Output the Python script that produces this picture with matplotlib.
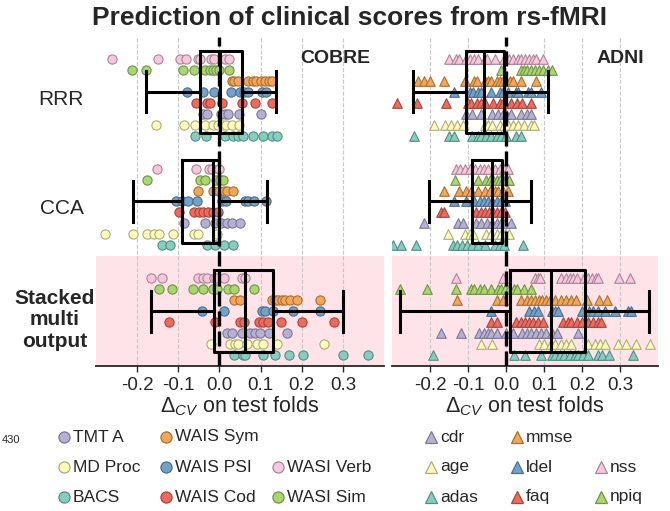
import numpy as np
import matplotlib
matplotlib.use('Agg')
import matplotlib.pyplot as plt

plt.rcParams['font.family'] = ['Liberation Sans', 'DejaVu Sans']
plt.rcParams['mathtext.fontset'] = 'custom'
plt.rcParams['mathtext.rm'] = 'Liberation Sans'
plt.rcParams['mathtext.it'] = 'Liberation Sans:italic'
plt.rcParams['axes.unicode_minus'] = False

TXT = '#262626'

methods = ['RRR', 'CCA', 'Stacked\nmulti\noutput']

# scores, listed top -> bottom inside each method row
cobre_scores = ['WASI Verb', 'WASI Sim', 'WAIS Sym', 'WAIS PSI',
                'WAIS Cod', 'TMT A', 'MD Proc', 'BACS']
adni_scores = ['nss', 'npiq', 'mmse', 'ldel', 'faq', 'cdr', 'age', 'adas']
# Set3-like colours, same order as the scores
score_colors = ['#f9c5df', '#a8d86a', '#f6a550', '#6fa3cb',
                '#f2685a', '#b5b1d6', '#fdfdb8', '#82cfc0']

# delta_cv per test fold
cobre_rrr = {
    'WASI Verb': [-0.26, -0.15, -0.096, -0.082, -0.053, -0.047, -0.021, -0.012, 0.014, 0.024],
    'WASI Sim': [-0.212, -0.178, -0.089, -0.063, -0.035, -0.024, -0.016, -0.008, -0.002, 0.024],
    'WAIS Sym': [0.030, 0.036, 0.044, 0.070, 0.081, 0.089, 0.100, 0.111, 0.121, 0.127],
    'WAIS PSI': [-0.078, -0.041, -0.013, 0.028, 0.050, 0.060, 0.070, 0.104, 0.113],
    'WAIS Cod': [-0.057, -0.031, -0.023, 0.007, 0.054, 0.087, 0.127],
    'TMT A': [-0.040, -0.029, 0.004, 0.014, 0.022, 0.048, 0.100],
    'MD Proc': [-0.155, -0.086, -0.059, -0.035, -0.015, -0.004, 0.007, 0.015, 0.030, 0.048],
    'BACS': [-0.059, -0.032, 0.014, 0.032, 0.046, 0.058, 0.081, 0.107, 0.127, 0.139],
}
cobre_cca = {
    'WASI Verb': [-0.151, -0.057, -0.025, -0.017, -0.002],
    'WASI Sim': [-0.177, -0.047, -0.035, -0.008, 0.002, 0.008],
    'WAIS Sym': [-0.053, -0.015, -0.002, 0.010, 0.019, 0.032],
    'WAIS PSI': [-0.106, -0.091, -0.077, -0.055, 0.006, 0.016, 0.061, 0.070, 0.083, 0.113],
    'WAIS Cod': [-0.098, -0.062, -0.049, -0.039, -0.027, -0.016, -0.004],
    'TMT A': [-0.085, -0.035, -0.011, 0.003, 0.018, 0.030, 0.049],
    'MD Proc': [-0.278, -0.211, -0.175, -0.160, -0.147, -0.112, -0.062, -0.053, -0.005],
    'BACS': [-0.140, -0.121, -0.029, -0.011, 0.012, 0.034],
}
cobre_stacked = {
    'WASI Verb': [-0.167, -0.140, -0.051, -0.040, -0.029, -0.013, -0.008, 0.010, 0.054, 0.062],
    'WASI Sim': [-0.146, -0.116, -0.065, -0.040, -0.016, -0.006, 0.022, 0.036, 0.083],
    'WAIS Sym': [0.036, 0.050, 0.127, 0.135, 0.143, 0.152, 0.160, 0.172, 0.188, 0.245],
    'WAIS PSI': [-0.043, 0.010, 0.103, 0.111, 0.130, 0.180, 0.245],
    'WAIS Cod': [-0.122, -0.011, 0.050, 0.060, 0.097, 0.107, 0.119, 0.149, 0.200, 0.279],
    'TMT A': [0.018, 0.030, 0.054, 0.074, 0.087, 0.099, 0.121, 0.165],
    'MD Proc': [-0.021, 0.026, 0.038, 0.045, 0.068, 0.091, 0.105, 0.141, 0.255],
    'BACS': [0.036, 0.057, 0.062, 0.105, 0.134, 0.170, 0.204, 0.300, 0.360],
}

adni_rrr = {
    'nss': [-0.149, -0.131, -0.124, -0.105, -0.096, -0.084, -0.074, -0.056, -0.049, -0.030,
            -0.005, 0.007, 0.018, 0.032, 0.040, 0.049, 0.060, 0.071, 0.080, 0.098],
    'npiq': [-0.014, 0.040, 0.047, 0.056, 0.067, 0.077, 0.086, 0.098, 0.111, 0.120],
    'mmse': [-0.232, -0.216, -0.199, -0.163, -0.109, -0.083, -0.076, -0.056, -0.047, -0.039,
             -0.025, -0.017, -0.008, 0.001, 0.010, 0.018, 0.040, 0.080],
    'ldel': [-0.137, -0.096, -0.087, -0.074, -0.065, -0.039, -0.017, -0.008, 0.005, 0.025,
             0.032, 0.058, 0.065, 0.091],
    'faq': [-0.286, -0.234, -0.157, -0.100, -0.091, -0.076, -0.065, -0.056, -0.034, -0.017,
            -0.008, 0.012, 0.030, 0.042, 0.065],
    'cdr': [-0.105, -0.090, -0.065, -0.037, -0.021, -0.008, 0.001, 0.014, 0.040, 0.054, 0.065],
    'age': [-0.190, -0.160, -0.144, -0.128, -0.113, -0.056, -0.047, -0.037, -0.017, -0.005,
            0.005, 0.018, 0.032, 0.047, 0.067, 0.074],
    'adas': [-0.243, -0.149, -0.137, -0.089, -0.074, -0.065, -0.052, -0.039, -0.023, -0.012,
             0.001, 0.025, 0.039],
}
adni_cca = {
    'nss': [-0.131, -0.120, -0.109, -0.096, -0.081, -0.069, -0.058, -0.047, -0.030, -0.017, -0.004, 0.005],
    'npiq': [-0.135, -0.074, -0.052, -0.043, -0.034, -0.025, -0.017, -0.008, 0.001, 0.007],
    'mmse': [-0.163, -0.125, -0.105, -0.091, -0.074, -0.056, -0.043, -0.030, -0.021, -0.008, 0.004],
    'ldel': [-0.137, -0.105, -0.084, -0.069, -0.058, -0.047, -0.037, -0.025, -0.012, -0.002],
    'faq': [-0.172, -0.163, -0.078, -0.065, -0.056, -0.046, -0.034, -0.023, -0.012, -0.002],
    'cdr': [-0.217, -0.127, -0.113, -0.078, -0.065, -0.049, -0.037, -0.025, -0.012, -0.002, 0.012],
    'age': [-0.153, -0.109, -0.096, -0.087, -0.052, -0.040, -0.025, -0.012, -0.002, 0.007],
    'adas': [-0.298, -0.276, -0.236, -0.140, -0.128, -0.116, -0.102, -0.090, -0.074, -0.056,
             -0.030, -0.017, -0.004, 0.045],
}
adni_stacked = {
    'nss': [-0.131, -0.008, 0.076, 0.083, 0.089, 0.146, 0.159, 0.168, 0.177, 0.188, 0.206,
            0.216, 0.225, 0.236, 0.243, 0.298, 0.326],
    'npiq': [-0.280, -0.207, -0.131, -0.093, -0.083, -0.069, -0.058, -0.040, -0.021, -0.012,
             -0.002, 0.007, 0.021, 0.030, 0.047, 0.067],
    'mmse': [-0.128, -0.025, -0.008, 0.039, 0.054, 0.067, 0.077, 0.086, 0.095, 0.104, 0.115,
             0.128, 0.146, 0.159, 0.172, 0.185, 0.214, 0.244, 0.267],
    'ldel': [-0.040, 0.060, 0.074, 0.083, 0.120, 0.130, 0.137, 0.199, 0.218, 0.229, 0.243,
             0.260, 0.288, 0.322, 0.330],
    'faq': [-0.040, -0.025, 0.027, 0.039, 0.049, 0.060, 0.071, 0.083, 0.098, 0.150, 0.162,
            0.172, 0.188, 0.200, 0.216, 0.229, 0.243, 0.251],
    'cdr': [-0.170, -0.118, -0.072, -0.058, -0.047, -0.039, -0.023, 0.001, 0.018, 0.042,
            0.054, 0.067, 0.080, 0.091, 0.104, 0.120, 0.133, 0.190],
    'age': [-0.065, -0.037, 0.086, 0.100, 0.118, 0.130, 0.146, 0.159, 0.172, 0.216, 0.234,
            0.247, 0.260, 0.295, 0.317, 0.341, 0.379],
    'adas': [-0.192, 0.021, 0.051, 0.093, 0.120, 0.128, 0.141, 0.153, 0.168, 0.181, 0.190,
             0.203, 0.216, 0.243, 0.253, 0.271, 0.335],
}

# box summaries over all scores (RRR, CCA, Stacked)
cobre_q1 = [-0.047, -0.092, -0.013]
cobre_med = [0.002, -0.016, 0.062]
cobre_q3 = [0.054, 0.0, 0.130]
cobre_wlo = [-0.178, -0.211, -0.166]
cobre_whi = [0.138, 0.115, 0.301]

adni_q1 = [-0.106, -0.089, 0.010]
adni_med = [-0.058, -0.037, 0.118]
adni_q3 = [-0.004, -0.0095, 0.207]
adni_wlo = [-0.245, -0.203, -0.279]
adni_whi = [0.111, 0.067, 0.377]

xticks = [-0.2, -0.1, 0.0, 0.1, 0.2, 0.3]

cobre_legend = ['TMT A', 'MD Proc', 'BACS', 'WAIS Sym', 'WAIS PSI', 'WAIS Cod',
                None, 'WASI Verb', 'WASI Sim']
adni_legend = ['cdr', 'age', 'adas', 'mmse', 'ldel', 'faq', None, 'nss', 'npiq']


def darker(c, f=0.68):
    r, g, b = matplotlib.colors.to_rgb(c)
    return (r * f, g * f, b * f)


def draw_panel(ax, runs, scores, marker, q1, med, q3, wlo, whi, size):
    ax.axhspan(1.45, 2.45, color='#fee4e8', lw=0, zorder=0)
    offsets = np.linspace(-0.35, 0.35, len(scores))
    for m, run in enumerate(runs):
        for k, s in enumerate(scores):
            vals = np.asarray(run[s])
            ax.scatter(vals, np.full(len(vals), m + offsets[k]), s=size, marker=marker,
                       color=score_colors[k], edgecolor=darker(score_colors[k]),
                       linewidth=0.8, zorder=2)
    stats = [dict(q1=q1[i], med=med[i], q3=q3[i], whislo=wlo[i], whishi=whi[i])
             for i in range(3)]
    lp = dict(color='black', linewidth=2.2)
    ax.bxp(stats, positions=np.arange(3) - 0.05, widths=0.75, capwidths=0.375,
           orientation='horizontal', showfliers=False, boxprops=lp, whiskerprops=lp,
           capprops=lp, medianprops=lp, zorder=3)
    ax.axvline(0, color='black', lw=2.4, ls=(0, (4.5, 1.5)), zorder=4)
    ax.set_ylim(2.45, -0.55)
    ax.set_xlim(-0.3, 0.4)
    ax.set_xticks(xticks)
    ax.set_xticklabels(['%.1f' % t for t in xticks], fontsize=13.5, color=TXT)
    ax.grid(axis='x', ls='--', color='#c8c8c8', lw=0.8, zorder=0.5)
    ax.grid(axis='y', visible=False)
    ax.set_axisbelow(True)
    for sp in ['left', 'right', 'top']:
        ax.spines[sp].set_visible(False)
    ax.spines['bottom'].set_linewidth(1.3)
    ax.spines['bottom'].set_color(TXT)
    ax.tick_params(axis='x', length=4, width=1.0, color=TXT, pad=4)
    ax.tick_params(axis='y', length=0)
    ax.set_xlabel(r'$\Delta_{CV}$ on test folds', fontsize=15.5, color=TXT, labelpad=0)


fig = plt.figure(figsize=(6.7, 5.11), dpi=100)
ax1 = fig.add_axes([96 / 670, 145 / 511, 288 / 670, 329 / 511])
ax2 = fig.add_axes([392 / 670, 145 / 511, 266 / 670, 329 / 511])

draw_panel(ax1, [cobre_rrr, cobre_cca, cobre_stacked], cobre_scores, 'o',
           cobre_q1, cobre_med, cobre_q3, cobre_wlo, cobre_whi, 44)
draw_panel(ax2, [adni_rrr, adni_cca, adni_stacked], adni_scores, '^',
           adni_q1, adni_med, adni_q3, adni_wlo, adni_whi, 48)

ax1.set_yticks([0, 1, 2])
ax1.set_yticklabels(methods, fontsize=15, color=TXT)
ax1.get_yticklabels()[2].set_fontweight('bold')
ax1.get_yticklabels()[2].set_multialignment('center')
ax1.get_yticklabels()[2].set_linespacing(1.15)
ticks = ax1.yaxis.get_major_ticks()
ticks[0].set_pad(9)
ticks[1].set_pad(9)
ticks[2].set_pad(1)
ax2.set_yticks([])

ax1.text(0.951, 0.936, 'COBRE', transform=ax1.transAxes, ha='right', va='center',
         fontsize=14, fontweight='bold', color=TXT)
ax2.text(0.947, 0.936, 'ADNI', transform=ax2.transAxes, ha='right', va='center',
         fontsize=14, fontweight='bold', color=TXT)

fig.text(0.521, 0.965, 'Prediction of clinical scores from rs-fMRI', ha='center',
         va='center', fontsize=19, fontweight='bold', color=TXT)
fig.text(0.002, 0.139, '430', fontsize=8, ha='left', va='center', color=TXT)

# legends, drawn on an overlay in pixel units
lax = fig.add_axes([0, 0, 1, 1])
lax.set_xlim(0, 670)
lax.set_ylim(511, 0)
lax.axis('off')
rows_y = [437, 467, 497]


def draw_legend(names, scores, col_x, marker, ms):
    for i, name in enumerate(names):
        if name is None:
            continue
        c = score_colors[scores.index(name)]
        x, y = col_x[i // 3], rows_y[i % 3]
        lax.plot([x], [y], marker=marker, ms=ms, color=c, mec=darker(c), mew=0.9, ls='none')
        lax.text(x + 9, y, name, fontsize=12.5, va='center', ha='left', color=TXT)


draw_legend(cobre_legend, cobre_scores, [64, 166, 278], 'o', 8)
draw_legend(adni_legend, adni_scores, [431, 517, 601], '^', 8.5)

fig.savefig('out.png', dpi=100)
